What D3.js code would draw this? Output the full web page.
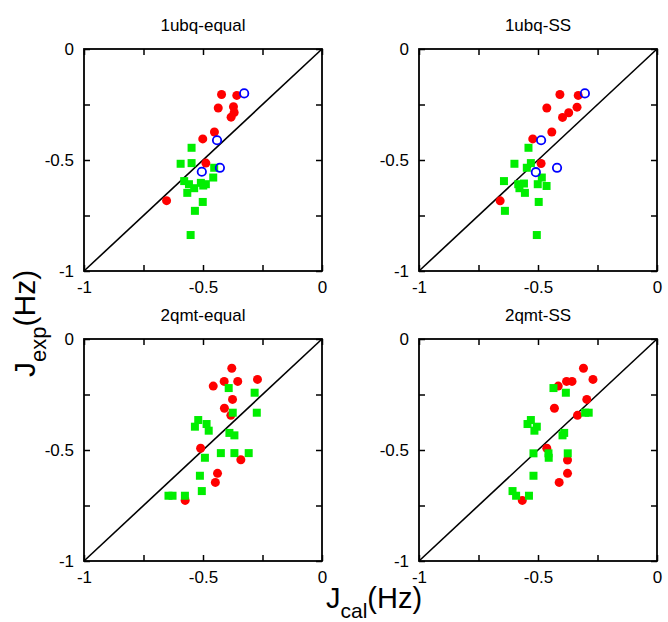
<!DOCTYPE html>
<html>
<head>
<meta charset="utf-8">
<script src="https://cdn.jsdelivr.net/npm/d3@7"></script>
<style>
  html, body { margin: 0; padding: 0; background: #fff; }
  svg { display: block; font-family: "Liberation Sans", Arial, sans-serif; }
</style>
</head>
<body>
<svg id="chart" width="668" height="622"></svg>
<script>
// Panel titles and tick values
const panelTitles = ["1ubq-equal", "1ubq-SS", "2qmt-equal", "2qmt-SS"];
const tickValues = [-1, -0.75, -0.5, -0.25, 0];
const tickLabels = { "-1": "-1", "-0.5": "-0.5", "0": "0" };

// [J_cal, J_exp] pairs, Hz
const ubqEqualRed = [[-0.422,-0.205],[-0.358,-0.209],[-0.436,-0.266],[-0.372,-0.260],[-0.369,-0.286],
  [-0.382,-0.307],[-0.452,-0.374],[-0.501,-0.405],[-0.488,-0.514],[-0.653,-0.683]];
const ubqEqualGreen = [[-0.548,-0.445],[-0.594,-0.517],[-0.548,-0.514],[-0.453,-0.535],[-0.457,-0.579],
  [-0.579,-0.595],[-0.559,-0.609],[-0.537,-0.627],[-0.566,-0.648],[-0.509,-0.603],[-0.499,-0.615],
  [-0.488,-0.609],[-0.501,-0.689],[-0.534,-0.729],[-0.552,-0.838]];
const ubqEqualBlue = [[-0.327,-0.200],[-0.441,-0.411],[-0.429,-0.535],[-0.505,-0.553]];

const ubqSSRed = [[-0.408,-0.205],[-0.331,-0.209],[-0.463,-0.266],[-0.371,-0.287],[-0.397,-0.308],
  [-0.336,-0.262],[-0.442,-0.374],[-0.522,-0.405],[-0.487,-0.516],[-0.659,-0.684]];
const ubqSSGreen = [[-0.540,-0.445],[-0.599,-0.517],[-0.530,-0.514],[-0.547,-0.535],[-0.484,-0.579],
  [-0.643,-0.595],[-0.583,-0.609],[-0.559,-0.606],[-0.578,-0.627],[-0.555,-0.648],[-0.501,-0.609],
  [-0.464,-0.617],[-0.497,-0.689],[-0.639,-0.729],[-0.505,-0.838]];
const ubqSSBlue = [[-0.303,-0.200],[-0.487,-0.411],[-0.420,-0.535],[-0.509,-0.555]];

const qmtEqualRed = [[-0.379,-0.132],[-0.411,-0.191],[-0.354,-0.191],[-0.271,-0.182],[-0.457,-0.212],
  [-0.376,-0.272],[-0.410,-0.312],[-0.383,-0.344],[-0.510,-0.492],[-0.341,-0.544],[-0.439,-0.605],
  [-0.448,-0.646],[-0.575,-0.727]];
const qmtEqualGreen = [[-0.392,-0.221],[-0.283,-0.242],[-0.375,-0.332],[-0.274,-0.332],[-0.520,-0.365],
  [-0.534,-0.395],[-0.485,-0.383],[-0.476,-0.413],[-0.389,-0.423],[-0.368,-0.434],[-0.492,-0.535],
  [-0.425,-0.514],[-0.368,-0.514],[-0.308,-0.514],[-0.513,-0.616],[-0.505,-0.685],[-0.645,-0.706],
  [-0.628,-0.706],[-0.576,-0.706]];

const qmtSSRed = [[-0.309,-0.132],[-0.380,-0.191],[-0.357,-0.191],[-0.269,-0.182],[-0.415,-0.212],
  [-0.295,-0.272],[-0.431,-0.312],[-0.334,-0.344],[-0.463,-0.492],[-0.376,-0.545],[-0.376,-0.605],
  [-0.411,-0.646],[-0.566,-0.727]];
const qmtSSGreen = [[-0.435,-0.221],[-0.383,-0.242],[-0.302,-0.332],[-0.287,-0.332],[-0.530,-0.365],
  [-0.544,-0.383],[-0.505,-0.395],[-0.515,-0.413],[-0.397,-0.434],[-0.390,-0.423],[-0.519,-0.515],
  [-0.456,-0.515],[-0.455,-0.535],[-0.375,-0.515],[-0.519,-0.616],[-0.607,-0.685],[-0.592,-0.706],
  [-0.538,-0.706]];

const panelData = [
  { red: ubqEqualRed, green: ubqEqualGreen, blue: ubqEqualBlue },
  { red: ubqSSRed, green: ubqSSGreen, blue: ubqSSBlue },
  { red: qmtEqualRed, green: qmtEqualGreen, blue: [] },
  { red: qmtSSRed, green: qmtSSGreen, blue: [] }
];

const svg = d3.select("#chart");
const pw = 238, ph = 222;
const origins = [[84, 49], [419, 49], [84, 339], [419, 339]];

const x = d3.scaleLinear().domain([-1, 0]).range([0, pw]);
const y = d3.scaleLinear().domain([-1, 0]).range([ph, 0]);
const fmt = d => tickLabels[String(d)] || "";

panelData.forEach((pd, i) => {
  const g = svg.append("g").attr("transform", `translate(${origins[i][0]},${origins[i][1]})`);

  // title
  g.append("text").attr("x", pw / 2).attr("y", -18).attr("text-anchor", "middle")
    .attr("font-size", 17).attr("fill", "#000").text(panelTitles[i]);

  // diagonal y = x
  g.append("line").attr("x1", x(-1)).attr("y1", y(-1)).attr("x2", x(0)).attr("y2", y(0))
    .attr("stroke", "#000").attr("stroke-width", 1.6);

  // axes with inward ticks on all four sides
  const axB = g.append("g").attr("transform", `translate(0,${ph})`)
    .call(d3.axisBottom(x).tickValues(tickValues).tickSizeInner(-6).tickSizeOuter(0).tickPadding(13).tickFormat(fmt));
  const axT = g.append("g")
    .call(d3.axisTop(x).tickValues(tickValues).tickSizeInner(-6).tickSizeOuter(0).tickFormat(""));
  const axL = g.append("g")
    .call(d3.axisLeft(y).tickValues(tickValues).tickSizeInner(-6).tickSizeOuter(0).tickPadding(10).tickFormat(fmt));
  const axR = g.append("g").attr("transform", `translate(${pw},0)`)
    .call(d3.axisRight(y).tickValues(tickValues).tickSizeInner(-6).tickSizeOuter(0).tickFormat(""));
  [axB, axT, axL, axR].forEach(a => {
    a.select(".domain").remove();
    a.selectAll(".tick line").attr("stroke", "#000").attr("stroke-width", 1.5);
    a.selectAll(".tick text").attr("font-size", 17).attr("fill", "#000")
      .attr("font-family", "'Liberation Sans', Arial, sans-serif");
  });
  axB.selectAll(".tick text").attr("dy", "0.55em");

  // frame
  g.append("rect").attr("width", pw).attr("height", ph)
    .attr("fill", "none").attr("stroke", "#000").attr("stroke-width", 1.8);

  // red filled circles
  g.selectAll(".red").data(pd.red).enter().append("circle")
    .attr("cx", d => x(d[0])).attr("cy", d => y(d[1])).attr("r", 4.5).attr("fill", "#ff0000");
  // green squares
  const s = 8;
  g.selectAll(".green").data(pd.green).enter().append("rect")
    .attr("x", d => x(d[0]) - s / 2).attr("y", d => y(d[1]) - s / 2)
    .attr("width", s).attr("height", s).attr("fill", "#00ee00");
  // blue open circles
  g.selectAll(".blue").data(pd.blue).enter().append("circle")
    .attr("cx", d => x(d[0])).attr("cy", d => y(d[1])).attr("r", 4.2)
    .attr("fill", "none").attr("stroke", "#0000ff").attr("stroke-width", 1.8);
});

// shared axis titles
const xl = svg.append("text").attr("x", 326).attr("y", 608).attr("font-size", 29).attr("fill", "#000");
xl.append("tspan").text("J");
xl.append("tspan").attr("font-size", 21).attr("dy", 10).text("cal");
xl.append("tspan").attr("dy", -10).text("(Hz)");

const yl = svg.append("text").attr("transform", "translate(35,377) rotate(-90)")
  .attr("font-size", 30).attr("fill", "#000");
yl.append("tspan").text("J");
yl.append("tspan").attr("font-size", 22).attr("dy", 11).text("exp");
yl.append("tspan").attr("dy", -11).text("(Hz)");
</script>
</body>
</html>
